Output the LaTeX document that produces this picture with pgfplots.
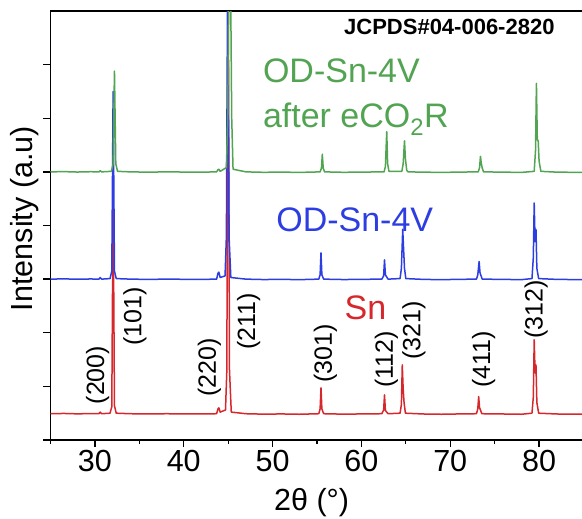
\documentclass[border=0pt]{standalone}
\usepackage{pgfplots}
\pgfplotsset{compat=1.18}
\usepackage{fontspec}
\setmainfont{Liberation Sans}
\definecolor{cred}{RGB}{214,40,44}
\definecolor{cblue}{RGB}{44,62,226}
\definecolor{cgreen}{RGB}{82,164,82}
\begin{document}
\begin{tikzpicture}
\begin{axis}[
  scale only axis, width=533bp, height=429bp,
  xmin=25, xmax=85, ymin=0, ymax=8,
  xtick={30,40,...,80}, minor xtick={25,35,...,85},
  ytick={0,1,...,7}, yticklabels={},
  tick pos=left, tick align=outside,
  major tick length=7bp, minor tick length=4bp,
  axis line style={line width=1.6bp},
  every tick/.style={black, line width=1.3bp},
  /pgf/number format/assume math mode=true,
  ticklabel style={font=\fontsize{30.5bp}{30.5bp}\selectfont},
  xlabel={2θ (°)}, ylabel={Intensity (a.u)},
  label style={font=\fontsize{30.5bp}{30.5bp}\selectfont},
  xlabel style={at={(axis description cs:0.49,-0.145)}, anchor=center},
  ylabel style={at={(axis description cs:-0.048,0.516)}, anchor=center},
  every axis plot/.append style={line width=1.5bp, line join=round},
  clip=true,
]
% Sn (red), baseline ~0.49
\addplot[cred] coordinates {
(25,0.49) (26.5,0.495) (28,0.488) (29.5,0.492) (30.45,0.49) (30.6,0.52) (30.75,0.49)
(31.7,0.50) (31.9,0.62) (32.05,4.6) (32.2,0.64) (32.4,0.50)
(34,0.49) (36,0.485) (38,0.49) (40,0.487) (42,0.485) (43.7,0.49) (43.85,0.58) (43.95,0.60) (44.1,0.52)
(44.7,0.56) (44.85,1.3) (45.0,9) (45.15,1.3) (45.35,0.52)
(47,0.49) (49,0.482) (51,0.486) (53,0.48) (55.2,0.49) (55.35,0.58) (55.45,0.97) (55.55,0.58) (55.75,0.49)
(58,0.482) (60,0.486) (62.3,0.49) (62.5,0.56) (62.6,0.84) (62.7,0.55) (62.85,0.52) (63.0,0.49)
(64.35,0.50) (64.5,0.66) (64.6,1.40) (64.7,0.95) (64.8,0.70) (64.95,0.50)
(67,0.485) (69,0.48) (71,0.486) (72.95,0.49) (73.1,0.58) (73.2,0.81) (73.3,0.60) (73.4,0.56) (73.55,0.49)
(76,0.485) (78,0.48) (79.2,0.50) (79.35,0.80) (79.45,1.87) (79.55,1.25) (79.65,1.40) (79.75,0.70) (79.95,0.50)
(82,0.485) (85,0.48)
};
% OD-Sn-4V (blue), baseline ~3.0
\addplot[cblue] coordinates {
(25,3.0) (26.5,3.005) (28,2.998) (29.5,3.003) (30.45,3.0) (30.6,3.03) (30.75,3.0)
(31.7,3.01) (31.9,3.15) (32.05,6.5) (32.2,3.15) (32.4,3.01)
(34,3.0) (36,2.995) (38,3.0) (40,2.997) (42,2.995) (43.7,3.0) (43.85,3.11) (43.95,3.13) (44.1,3.03)
(44.65,3.06) (44.8,3.8) (44.95,9) (45.1,3.8) (45.3,3.03)
(47,3.0) (49,2.992) (51,2.996) (53,2.99) (55.2,3.0) (55.35,3.08) (55.45,3.49) (55.55,3.08) (55.75,3.0)
(58,2.992) (60,2.996) (62.3,3.0) (62.5,3.06) (62.6,3.36) (62.7,3.08) (62.85,3.04) (63.0,3.0)
(64.35,3.01) (64.5,3.2) (64.65,3.93) (64.75,3.55) (64.85,3.2) (65.0,3.01)
(67,2.995) (69,2.99) (71,2.996) (72.95,3.0) (73.1,3.08) (73.25,3.33) (73.35,3.12) (73.45,3.07) (73.6,3.0)
(76,2.995) (78,2.99) (79.2,3.01) (79.35,3.4) (79.45,4.42) (79.55,3.7) (79.65,3.93) (79.75,3.2) (79.95,3.01)
(82,2.995) (85,2.99)
};
% OD-Sn-4V after eCO2R (green), baseline ~5.0
\addplot[cgreen] coordinates {
(25,5.0) (26.5,5.005) (28,4.997) (29.5,5.003) (30.45,5.0) (30.6,5.02) (30.75,5.0)
(31.85,5.01) (32.05,5.15) (32.2,6.88) (32.35,5.15) (32.55,5.01)
(34,5.0) (36,4.995) (38,5.0) (40,4.997) (42,4.995) (43.7,5.0) (43.85,5.04) (43.95,5.05) (44.1,5.01)
(44.8,5.08) (44.95,6.0) (45.1,9) (45.25,9) (45.4,6.0) (45.55,5.05)
(47,5.0) (49,4.992) (51,4.996) (53,4.99) (55.35,5.0) (55.5,5.07) (55.6,5.33) (55.7,5.07) (55.85,5.0)
(58,4.992) (60,4.996) (62.55,5.0) (62.7,5.1) (62.85,5.75) (62.95,5.15) (63.1,5.01)
(64.55,5.01) (64.7,5.15) (64.85,5.58) (64.95,5.25) (65.1,5.03) (65.25,5.0)
(67,4.995) (69,4.99) (71,4.996) (73.15,5.0) (73.3,5.08) (73.4,5.29) (73.5,5.15) (73.6,5.07) (73.75,5.0)
(76,4.995) (78,4.99) (79.45,5.01) (79.6,5.4) (79.7,6.65) (79.8,5.6) (79.9,5.58) (80.0,5.2) (80.2,5.01)
(82,4.995) (85,4.99)
};
% annotations
\node[font=\fontsize{22bp}{22bp}\selectfont\bfseries] at (axis cs:69.9,7.70) {JCPDS\#04-006-2820};
\node[cgreen, anchor=base west, font=\fontsize{34bp}{34bp}\selectfont, inner sep=0pt] at (axis cs:48.9,6.67) {OD-Sn-4V};
\node[cgreen, anchor=base west, font=\fontsize{34bp}{34bp}\selectfont, inner sep=0pt] at (axis cs:48.9,5.83) {after eCO\textsubscript{2}R};
\node[cblue, anchor=base west, font=\fontsize{34bp}{34bp}\selectfont, inner sep=0pt] at (axis cs:50.4,3.89) {OD-Sn-4V};
\node[cred, anchor=base west, font=\fontsize{34bp}{34bp}\selectfont, inner sep=0pt] at (axis cs:58.1,2.24) {Sn};
\begin{scope}[every node/.style={rotate=90, anchor=center, inner sep=0pt, font=\fontsize{25bp}{25bp}\selectfont}]
\node at (axis cs:30.3,1.21) {(200)};
\node at (axis cs:34.5,2.30) {(101)};
\node at (axis cs:42.9,1.35) {(220)};
\node at (axis cs:47.3,2.21) {(211)};
\node at (axis cs:55.95,1.61) {(301)};
\node at (axis cs:62.8,1.50) {(112)};
\node at (axis cs:65.9,2.04) {(321)};
\node at (axis cs:73.76,1.50) {(411)};
\node at (axis cs:79.66,2.43) {(312)};
\end{scope}
\end{axis}
\pgfresetboundingbox
\path (-50.5bp,-79bp) rectangle (531.5bp,440bp);
\end{tikzpicture}
\end{document}
